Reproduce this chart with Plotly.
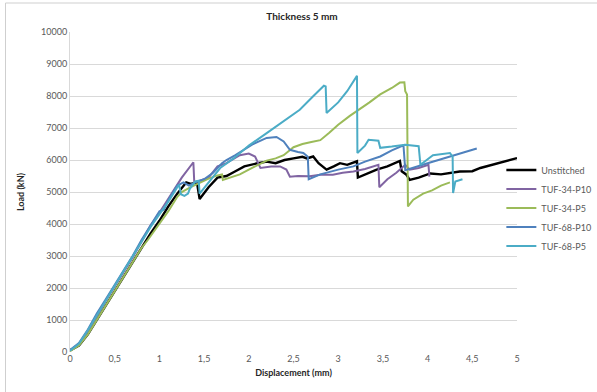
import plotly.graph_objects as go

# Load–displacement curves, thickness 5 mm (displacement in mm, load in kN)
unstitched_x = [0, 0.1, 0.2, 0.3, 0.4, 0.5, 0.6, 0.7, 0.8, 0.9, 1.0, 1.1, 1.2, 1.3, 1.35, 1.42, 1.45,
                1.55, 1.65, 1.75, 1.85, 1.95, 2.1, 2.2, 2.3, 2.4, 2.5, 2.6, 2.65, 2.72, 2.78, 2.87,
                2.95, 3.02, 3.1, 3.21, 3.22, 3.3, 3.43, 3.55, 3.69, 3.71, 3.76, 3.8, 3.9, 4.03,
                4.15, 4.36, 4.5, 4.59, 4.8, 5.0]
unstitched_y = [50, 200, 550, 1000, 1450, 1900, 2350, 2800, 3250, 3700, 4100, 4550, 4950, 5300, 5250,
                5300, 4780, 5150, 5450, 5500, 5650, 5800, 5900, 5950, 5900, 6000, 6050, 6100, 6050,
                6110, 5900, 5700, 5800, 5900, 5850, 5960, 5450, 5550, 5700, 5800, 5970, 5650, 5550,
                5380, 5450, 5580, 5550, 5640, 5650, 5750, 5900, 6060]

tuf34_p10_x = [0, 0.1, 0.2, 0.3, 0.4, 0.5, 0.6, 0.7, 0.8, 0.9, 1.0, 1.1, 1.2, 1.25, 1.38, 1.39,
               1.45, 1.55, 1.65, 1.75, 1.9, 2.0, 2.07, 2.13, 2.25, 2.35, 2.42, 2.46, 2.55, 2.68,
               2.8, 2.94, 3.05, 3.17, 3.3, 3.45, 3.46, 3.55, 3.65, 3.75, 3.8, 3.9, 4.01, 4.02]
tuf34_p10_y = [50, 250, 650, 1100, 1600, 2050, 2500, 2950, 3450, 3950, 4350, 4800, 5250, 5450, 5930,
               5300, 5350, 5450, 5800, 5900, 6150, 6200, 6110, 5750, 5800, 5800, 5700, 5480, 5500,
               5490, 5540, 5540, 5600, 5640, 5720, 5850, 5150, 5400, 5600, 5850, 5700, 5750, 5850,
               5480]

tuf34_p5_x = [0, 0.1, 0.2, 0.3, 0.4, 0.5, 0.6, 0.7, 0.8, 0.87, 0.95, 1.0, 1.1, 1.2, 1.25, 1.35,
              1.45, 1.55, 1.65, 1.7, 1.71, 1.8, 1.9, 2.0, 2.1, 2.2, 2.3, 2.39, 2.5, 2.6, 2.7, 2.8,
              2.9, 3.0, 3.13, 3.25, 3.35, 3.47, 3.6, 3.69, 3.74, 3.75, 3.77, 3.78, 3.84, 3.95,
              4.05, 4.15, 4.25]
tuf34_p5_y = [30, 200, 550, 1000, 1450, 1900, 2350, 2800, 3250, 3500, 3800, 4000, 4400, 4850, 5000,
              5150, 5280, 5420, 5520, 5550, 5380, 5450, 5550, 5700, 5850, 5980, 6050, 6150, 6400,
              6500, 6560, 6620, 6850, 7100, 7380, 7600, 7800, 8050, 8250, 8420, 8430, 8150, 8050,
              4550, 4760, 4950, 5050, 5200, 5300]

tuf68_p10_x = [0, 0.1, 0.2, 0.3, 0.4, 0.5, 0.6, 0.7, 0.8, 0.9, 1.0, 1.05, 1.1, 1.2, 1.27, 1.33,
               1.4, 1.5, 1.6, 1.7, 1.75, 1.85, 1.94, 2.05, 2.2, 2.31, 2.39, 2.46, 2.55, 2.61, 2.66,
               2.67, 2.8, 3.0, 3.17, 3.3, 3.47, 3.6, 3.73, 3.75, 4.0, 4.25, 4.55]
tuf68_p10_y = [60, 280, 700, 1200, 1650, 2100, 2550, 3000, 3500, 3950, 4400, 4450, 4750, 5200, 5300,
               5200, 5300, 5400, 5600, 5900, 6000, 6150, 6320, 6500, 6690, 6720, 6580, 6320, 6250,
               6220, 6100, 5400, 5550, 5700, 5800, 5950, 6110, 6300, 6460, 5680, 5900, 6100, 6360]

tuf68_p5_x = [0, 0.1, 0.2, 0.3, 0.4, 0.5, 0.6, 0.7, 0.8, 0.9, 1.0, 1.1, 1.2, 1.22, 1.24, 1.28,
              1.32, 1.34, 1.4, 1.44, 1.45, 1.55, 1.68, 1.83, 2.0, 2.2, 2.42, 2.57, 2.72, 2.84,
              2.86, 2.87, 3.0, 3.1, 3.21, 3.215, 3.3, 3.34, 3.45, 3.47, 3.6, 3.75, 3.9, 3.92,
              4.06, 4.15, 4.25, 4.28, 4.285, 4.31, 4.39]
tuf68_p5_y = [40, 260, 680, 1150, 1620, 2080, 2530, 2980, 3450, 3900, 4300, 4700, 5150, 5230, 4930,
              4880, 4950, 5100, 5330, 5350, 4950, 5300, 5750, 6050, 6450, 6840, 7260, 7570, 7990,
              8320, 8300, 7470, 7800, 8150, 8630, 6220, 6450, 6630, 6600, 6380, 6420, 6480, 6430,
              5850, 6150, 6180, 6220, 6110, 4970, 5330, 5400]

series = [
    ("Unstitched", unstitched_x, unstitched_y, "#000000", 2.4),
    ("TUF-34-P10", tuf34_p10_x, tuf34_p10_y, "#8064a2", 2),
    ("TUF-34-P5", tuf34_p5_x, tuf34_p5_y, "#9bbb59", 2),
    ("TUF-68-P10", tuf68_p10_x, tuf68_p10_y, "#4f81bd", 2),
    ("TUF-68-P5", tuf68_p5_x, tuf68_p5_y, "#4bacc6", 2),
]

x_tick_vals = [0, 0.5, 1, 1.5, 2, 2.5, 3, 3.5, 4, 4.5, 5]
x_tick_text = ["0", "0,5", "1", "1,5", "2", "2,5", "3", "3,5", "4", "4,5", "5"]
y_tick_vals = [0, 1000, 2000, 3000, 4000, 5000, 6000, 7000, 8000, 9000, 10000]
y_tick_text = [str(v) for v in y_tick_vals]

FONT = "Lato, 'Open Sans', sans-serif"
TICK_COLOR = "#595959"

fig = go.Figure()
for name, xs, ys, color, width in series:
    fig.add_trace(go.Scatter(x=xs, y=ys, mode="lines", name=name,
                             line=dict(color=color, width=width)))

fig.update_layout(
    width=597, height=392,
    margin=dict(l=70, r=80, t=32, b=40, autoexpand=False),
    paper_bgcolor="white", plot_bgcolor="white",
    font=dict(family=FONT, size=9, color=TICK_COLOR),
    title=dict(text="<b>Thickness 5 mm</b>", x=302 / 597, xanchor="center",
               y=1 - 16 / 392, yanchor="middle",
               font=dict(family=FONT, size=10, color="#262626")),
    showlegend=True,
    legend=dict(x=0.965, xanchor="left", y=0.45, yanchor="middle",
                font=dict(family=FONT, size=9, color=TICK_COLOR),
                itemwidth=30, tracegroupgap=0, bgcolor="rgba(0,0,0,0)"),
    xaxis=dict(range=[0, 5], tickvals=x_tick_vals, ticktext=x_tick_text,
               showgrid=False, zeroline=False, showline=False, ticks="",
               tickfont=dict(family=FONT, size=9, color=TICK_COLOR),
               title=dict(text="<b>Displacement (mm)</b>", standoff=6,
                          font=dict(family=FONT, size=9, color="#262626"))),
    yaxis=dict(range=[0, 10000], tickvals=y_tick_vals, ticktext=y_tick_text,
               showgrid=True, gridcolor="#d9d9d9", gridwidth=1, zeroline=False,
               showline=True, linecolor="#d9d9d9", linewidth=1, ticks="",
               tickfont=dict(family=FONT, size=9, color=TICK_COLOR),
               title=dict(text="<b>Load (kN)</b>", standoff=14,
                          font=dict(family=FONT, size=9, color="#262626"))),
)

# Chart frame
fig.add_shape(type="rect", xref="paper", yref="paper",
              x0=-0.1443, x1=1.19, y0=-0.14, y1=1.0906,
              line=dict(color="#cfcfcf", width=1), fillcolor="rgba(0,0,0,0)",
              layer="above")

fig.write_html("out.html")
